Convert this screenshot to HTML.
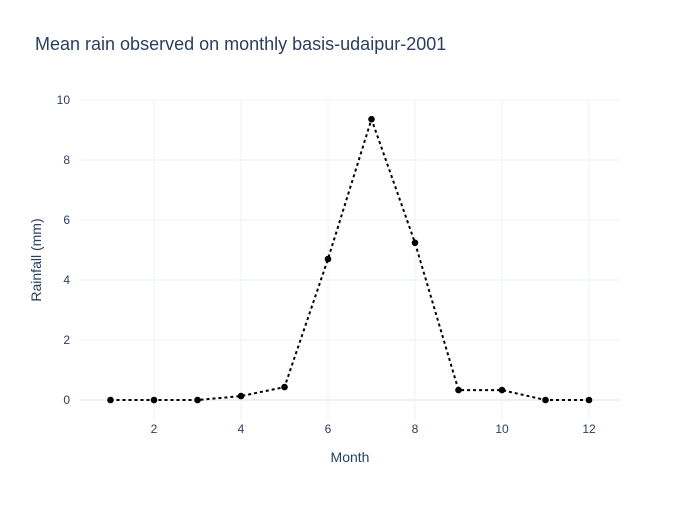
<!DOCTYPE html>
<html><head><meta charset="utf-8"><style>
body{margin:0;background:#fff;}
svg text{font-family:"Liberation Sans",sans-serif;fill:#2a3f5f;}
</style></head><body>
<svg id="chart" width="700" height="500" xmlns="http://www.w3.org/2000/svg">
<rect width="700" height="500" fill="#fff"/>
<text x="35" y="50" font-size="18">Mean rain observed on monthly basis-udaipur-2001</text>
<g id="grid"></g>
<g id="ticks"></g>
<text x="350" y="462" font-size="14" text-anchor="middle">Month</text>
<text transform="translate(41,260) rotate(-90)" font-size="14" text-anchor="middle">Rainfall (mm)</text>
<g id="series"></g>
</svg>
<script>
const months=[1,2,3,4,5,6,7,8,9,10,11,12];
const rainfall=[0,0,0,0.13,0.43,4.7,9.36,5.24,0.33,0.33,0,0];
const xTicks=[2,4,6,8,10,12];
const yTicks=[0,2,4,6,8,10];
const NS="http://www.w3.org/2000/svg";
const xs=v=>154+(v-2)*43.5;
const ys=v=>400-v*30;
const grid=document.getElementById('grid'),ticks=document.getElementById('ticks'),series=document.getElementById('series');
function mk(tag,attrs,parent){const e=document.createElementNS(NS,tag);for(const k in attrs)e.setAttribute(k,attrs[k]);parent.appendChild(e);return e;}
xTicks.forEach(t=>{
 const l=mk('line',{x1:xs(t),x2:xs(t),y1:100,y2:420,stroke:'#ebf0f8','stroke-width':1},grid);
 
 
 const tx=mk('text',{x:xs(t),y:433,'font-size':12,'text-anchor':'middle'},ticks);tx.textContent=t;
 
 
});
yTicks.forEach(t=>{
 const l=mk('line',{x1:80,x2:620,y1:ys(t),y2:ys(t),stroke:'#ebf0f8','stroke-width':t===0?2:1},grid);
 
 
 const tx=mk('text',{x:70,y:ys(t)+4,'font-size':12,'text-anchor':'end'},ticks);tx.textContent=t;
 
 
});
const pts=months.map((m,i)=>xs(m)+','+ys(rainfall[i])).join(' ');
const pl=mk('polyline',{points:pts,fill:'none',stroke:'#000','stroke-width':2,'stroke-dasharray':'3,3'},series);


months.forEach((m,i)=>{
 const c=mk('circle',{cx:xs(m),cy:ys(rainfall[i]),r:3.3,fill:'#000'},series);
 
 
});
</script>
</body></html>
